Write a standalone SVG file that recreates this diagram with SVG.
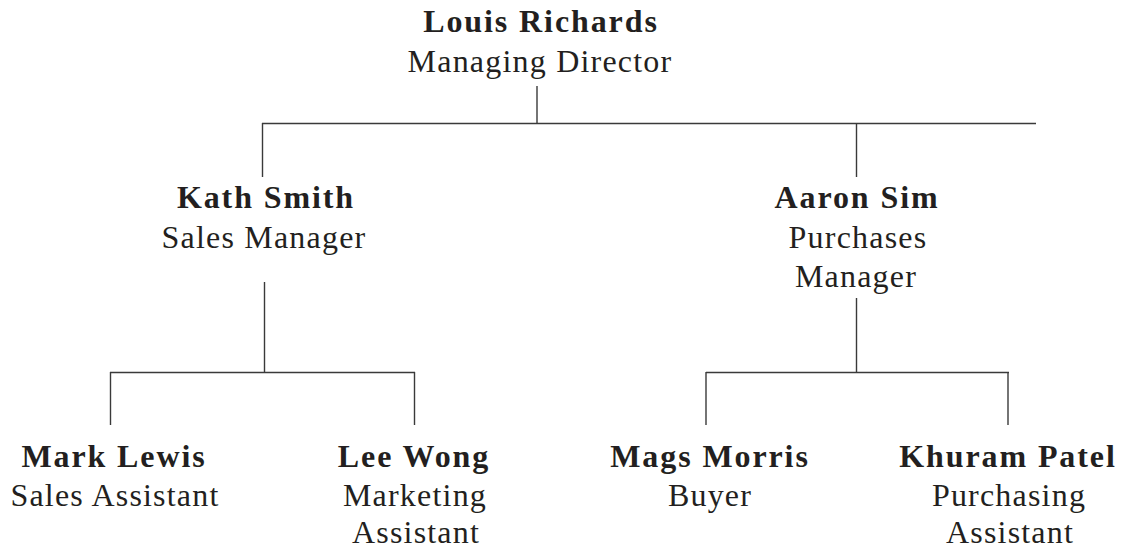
<svg xmlns="http://www.w3.org/2000/svg" width="1122" height="552" viewBox="0 0 1122 552">
<style>
text{font-family:"Liberation Serif","Times New Roman",serif;font-size:32px;fill:#231f20;text-anchor:middle}
.n{font-weight:bold;letter-spacing:1.9px}
.t{letter-spacing:1.2px}
.c path{stroke:#3a3a3a;stroke-width:1.4;fill:none}
</style>
<rect width="1122" height="552" fill="#fff"/>
<g class="c" id="connectors">
<path d="M537 86V124"/>
<path d="M262 123.5H1036"/>
<path d="M262.5 123V177"/>
<path d="M856.5 123V177"/>
<path d="M264.5 282V373"/>
<path d="M110 372.5H415"/>
<path d="M110.5 372V425"/>
<path d="M414.5 372V425"/>
<path d="M856.5 298V373"/>
<path d="M706 372.5H1009"/>
<path d="M706 372V425"/>
<path d="M1008 372V425"/>
</g>
<g id="louis">
<text class="n" x="541" y="32">Louis Richards</text>
<text class="t" x="540" y="72">Managing Director</text>
</g>
<g id="kath">
<text class="n" x="266" y="208">Kath Smith</text>
<text class="t" x="264" y="248">Sales Manager</text>
</g>
<g id="aaron">
<text class="n" x="857" y="208">Aaron Sim</text>
<text class="t" x="858" y="248">Purchases</text>
<text class="t" x="856" y="287">Manager</text>
</g>
<g id="mark">
<text class="n" x="114" y="467">Mark Lewis</text>
<text class="t" x="115" y="506">Sales Assistant</text>
</g>
<g id="lee">
<text class="n" x="414" y="467">Lee Wong</text>
<text class="t" x="415" y="506">Marketing</text>
<text class="t" x="416" y="543">Assistant</text>
</g>
<g id="mags">
<text class="n" x="710" y="467">Mags Morris</text>
<text class="t" x="710" y="506">Buyer</text>
</g>
<g id="khuram">
<text class="n" x="1008" y="467">Khuram Patel</text>
<text class="t" x="1009" y="506">Purchasing</text>
<text class="t" x="1010" y="543">Assistant</text>
</g>
</svg>
